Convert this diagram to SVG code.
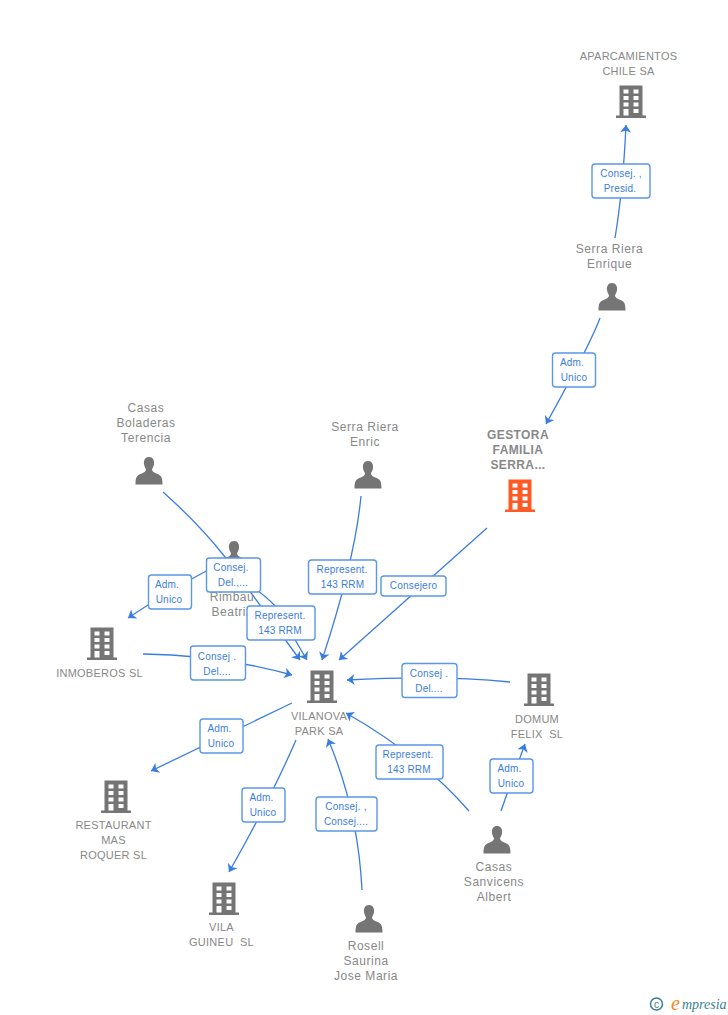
<svg xmlns="http://www.w3.org/2000/svg" width="728" height="1015" viewBox="0 0 728 1015">
<style>
text{font-family:"Liberation Sans",Arial,sans-serif;white-space:pre}
.n{font-size:12px;fill:#888;text-anchor:middle;letter-spacing:.55px}
.u{font-size:11px;letter-spacing:.25px}
.b{font-size:12px;font-weight:bold;letter-spacing:.4px}
.e{fill:none;stroke:#3a7de0;stroke-width:1.3}
.l rect{fill:#fff;stroke:#5a97e6;stroke-width:1.4}
.l text{font-size:10px;fill:#3a7de0;text-anchor:middle;letter-spacing:.2px}
.bld{fill:#757575}
.o{fill:#ff5a26}
</style>
<defs>
<marker id="a" viewBox="0 0 8 12" refX="7.500" refY="6" markerWidth="8" markerHeight="12" markerUnits="userSpaceOnUse" orient="auto"><path d="M7.500 6L0 0.500L2 6L0 11.500Z" fill="#3a7de0"/></marker>
<path id="bd" fill-rule="evenodd" d="M-11.500-16.500H11.500V13.500H15V16H-15V13.500H-11.500ZM-7.500-12.500V-8.500H-2.500V-12.500ZM2.500-12.500V-8.500H7.500V-12.500ZM-7.500-6V-2H-2.500V-6ZM2.500-6V-2H7.500V-6ZM-7.500.5V4.500H-2.500V.5ZM2.500.5V4.500H7.500V.5ZM-7.500 7V13.500H-2.500V7ZM2.500 7V11H7.500V7Z"/>
<path id="pr" d="M0-14C-4-14-5.500-10.500-5-7C-4.700-4.500-3.500-3-3-1.500C-3 .5-5 1.500-8.500 3C-12 4.500-13.500 6-13.500 13.500H13.500C13.500 6 12 4.500 8.500 3C5 1.500 3 .5 3-1.500C3.500-3 4.700-4.500 5-7C5.500-10.500 4-14 0-14Z"/>
</defs>
<g id="connectors">
<path class="e" marker-end="url(#a)" d="M615 238Q623 190 626 125"/>
<path class="e" marker-end="url(#a)" d="M600 318Q590 345 546 424"/>
<path class="e" marker-end="url(#a)" d="M487 528L339 660"/>
<path class="e" marker-end="url(#a)" d="M361 496Q355 560 322 660"/>
<path class="e" marker-end="url(#a)" d="M163 492Q200 525 225 557L300 660"/>
<path class="e" marker-end="url(#a)" d="M254 588Q268 598 275 606L307 660"/>
<path class="e" marker-end="url(#a)" d="M210 569Q170 590 128 618"/>
<path class="e" marker-end="url(#a)" d="M143 654Q220 655 292 675"/>
<path class="e" marker-end="url(#a)" d="M292 703L151 771"/>
<path class="e" marker-end="url(#a)" d="M296 740Q270 800 229 872"/>
<path class="e" marker-end="url(#a)" d="M362 890Q358 810 328 739"/>
<path class="e" marker-end="url(#a)" d="M469 811Q420 755 346 713"/>
<path class="e" marker-end="url(#a)" d="M501 811Q510 785 525 744"/>
<path class="e" marker-end="url(#a)" d="M510 682Q440 675 347 680"/>
</g>
<g id="node-aparcamientos"><text class="n u" x="628.500" y="60">APARCAMIENTOS</text><text class="n u" x="628.500" y="75">CHILE SA</text><use href="#bd" class="bld" x="631" y="102"/></g>
<g id="node-enrique"><text class="n" x="609.500" y="253">Serra Riera</text><text class="n" x="609.500" y="268">Enrique</text><use href="#pr" class="bld" x="612" y="297"/></g>
<g id="node-gestora"><text class="n b" x="518" y="439">GESTORA</text><text class="n b" x="518" y="454">FAMILIA</text><text class="n b" x="518" y="469">SERRA...</text><use href="#bd" class="o" x="520" y="496"/></g>
<g id="node-terencia"><text class="n" x="146" y="412">Casas</text><text class="n" x="146" y="427">Boladeras</text><text class="n" x="146" y="442">Terencia</text><use href="#pr" class="bld" x="149" y="471"/></g>
<g id="node-enric"><text class="n" x="365" y="431">Serra Riera</text><text class="n" x="365" y="446">Enric</text><use href="#pr" class="bld" x="368" y="475"/></g>
<g id="node-beatriz"><use href="#pr" class="bld" x="234" y="555"/><text class="n" x="232" y="601">Rimbau</text><text class="n" x="232" y="616">Beatriz</text></g>
<g id="node-inmoberos"><use href="#bd" class="bld" x="102" y="644"/><text class="n u" x="99.500" y="677">INMOBEROS SL</text></g>
<g id="node-vilanova"><use href="#bd" class="bld" x="322" y="687"/><text class="n u" x="319" y="720">VILANOVA</text><text class="n u" x="319" y="735">PARK SA</text></g>
<g id="node-domum"><use href="#bd" class="bld" x="539" y="690"/><text class="n u" x="537" y="723">DOMUM</text><text class="n u" x="537" y="738">FELIX  SL</text></g>
<g id="node-restaurant"><use href="#bd" class="bld" x="116" y="797"/><text class="n u" x="113.500" y="829">RESTAURANT</text><text class="n u" x="113.500" y="844">MAS</text><text class="n u" x="113.500" y="859">ROQUER SL</text></g>
<g id="node-vila"><use href="#bd" class="bld" x="224" y="899"/><text class="n u" x="221.500" y="931">VILA</text><text class="n u" x="221.500" y="946">GUINEU  SL</text></g>
<g id="node-albert"><use href="#pr" class="bld" x="497" y="840"/><text class="n" x="494" y="871">Casas</text><text class="n" x="494" y="886">Sanvicens</text><text class="n" x="494" y="901">Albert</text></g>
<g id="node-rosell"><use href="#pr" class="bld" x="369" y="919"/><text class="n" x="366" y="950">Rosell</text><text class="n" x="366" y="965">Saurina</text><text class="n" x="366" y="980">Jose Maria</text></g>
<g id="labels">
<g class="l"><rect x="592" y="164" width="58" height="34" rx="3"/><text x="621" y="177">Consej. ,</text><text x="620" y="192">Presid.</text></g>
<g class="l"><rect x="552.500" y="353" width="43" height="34" rx="3"/><text x="572" y="366">Adm.</text><text x="574" y="381">Unico</text></g>
<g class="l"><rect x="381" y="576" width="65" height="20" rx="3"/><text x="413.500" y="589">Consejero</text></g>
<g class="l"><rect x="308.500" y="560" width="68" height="34" rx="3"/><text x="342" y="573">Represent.</text><text x="342.500" y="588">143 RRM</text></g>
<g class="l"><rect x="148.500" y="575" width="43" height="34" rx="3"/><text x="167" y="588">Adm.</text><text x="169" y="603">Unico</text></g>
<g class="l"><rect x="206.500" y="558" width="54" height="34" rx="3"/><text x="231" y="571">Consej.</text><text x="233" y="586">Del.,...</text></g>
<g class="l"><rect x="247" y="606" width="68" height="34" rx="3"/><text x="280" y="619">Represent.</text><text x="280" y="634">143 RRM</text></g>
<g class="l"><rect x="190.500" y="646" width="55" height="34" rx="3"/><text x="217" y="660">Consej .</text><text x="217" y="675">Del....</text></g>
<g class="l"><rect x="402" y="663.500" width="55" height="34" rx="3"/><text x="429" y="677">Consej .</text><text x="429" y="692">Del....</text></g>
<g class="l"><rect x="200" y="719" width="43" height="34" rx="3"/><text x="219.500" y="732">Adm.</text><text x="221" y="747">Unico</text></g>
<g class="l"><rect x="242" y="788" width="43" height="34" rx="3"/><text x="261.500" y="801">Adm.</text><text x="263" y="816">Unico</text></g>
<g class="l"><rect x="316" y="797" width="61" height="34" rx="3"/><text x="346" y="810">Consej. ,</text><text x="346" y="825">Consej....</text></g>
<g class="l"><rect x="376" y="745" width="67" height="34" rx="3"/><text x="408" y="758">Represent.</text><text x="409" y="773">143 RRM</text></g>
<g class="l"><rect x="490" y="759" width="43" height="34" rx="3"/><text x="509.500" y="772">Adm.</text><text x="511" y="787">Unico</text></g>
</g>
<g id="logo"><circle cx="656.500" cy="1004" r="6" fill="none" stroke="#3b7f94" stroke-width="1.500"/><text x="656.500" y="1007.500" font-size="10" text-anchor="middle" fill="#3b7f94">c</text><text x="671" y="1010" font-size="20" font-style="italic" fill="#f08a1d" style="font-family:'Liberation Serif',serif">e</text><text x="682" y="1009" font-size="14" font-style="italic" fill="#3b7f94" style="font-family:'Liberation Serif',serif">mpresia</text></g>
</svg>
